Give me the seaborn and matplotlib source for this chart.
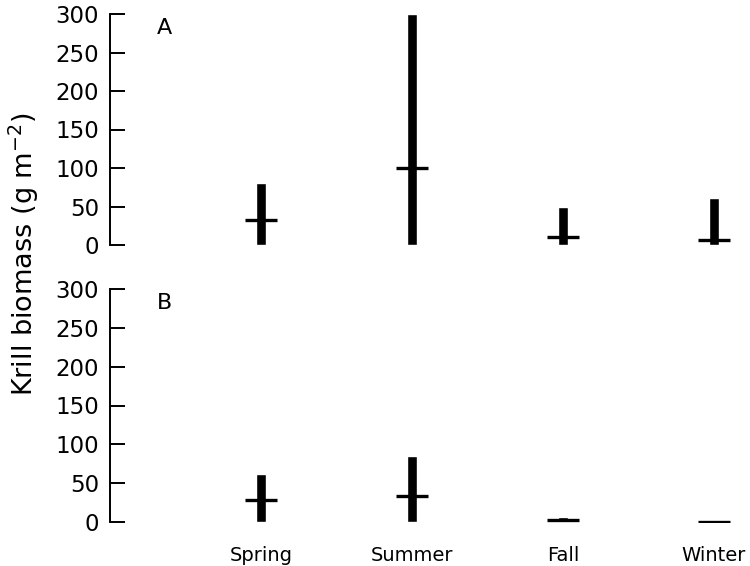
import matplotlib
matplotlib.use("Agg")
import matplotlib.pyplot as plt
import seaborn as sns
import pandas as pd

sns.set_theme(style="white")
plt.rcParams["font.family"] = ["DejaVu Sans"]
plt.rcParams["text.color"] = "black"
plt.rcParams["xtick.color"] = "black"
plt.rcParams["ytick.color"] = "black"

seasons = ["Spring", "Summer", "Fall", "Winter"]
# Panel A: range (0 to max) and median krill biomass
a_max = [80, 300, 49, 61]
a_median = [33, 100, 10, 6]
# Panel B
b_max = [62, 85, 7, 1]
b_median = [28, 34, 2, 0.5]

yticks = [0, 50, 100, 150, 200, 250, 300]

fig = plt.figure(figsize=(7.5, 5.66), dpi=100)
left = 110 / 750
width = 151 * 4.2 / 750
ax_a = fig.add_axes([left, 1 - 245 / 566, width, 231 / 566])
ax_b = fig.add_axes([left, 1 - 522 / 566, width, 233 / 566])

panels = [(ax_a, a_max, a_median, "A"), (ax_b, b_max, b_median, "B")]
for ax, vmax, vmed, tag in panels:
    df = pd.DataFrame({"season": seasons, "max": vmax, "median": vmed})
    sns.barplot(data=df, x="season", y="max", order=seasons, color="black",
                width=0.06, saturation=1, ax=ax)
    sns.scatterplot(data=df, x="season", y="median", marker="_", s=500,
                    color="black", linewidth=2.4, ax=ax, zorder=5)
    ax.set_xlim(-1, 3.2)
    ax.set_ylim(0, 300)
    ax.set_yticks(yticks)
    ax.set_yticklabels([str(t) for t in yticks], fontsize=16.5, color="black")
    ax.tick_params(axis="y", which="major", direction="in", length=11,
                   width=1.4, pad=8, left=True, right=False, colors="black")
    ax.tick_params(axis="x", length=0, labelsize=14, pad=17, colors="black")
    for s in ["top", "right", "bottom"]:
        ax.spines[s].set_visible(False)
    ax.spines["left"].set_color("black")
    ax.spines["left"].set_linewidth(1.4)
    ax.set_xlabel("")
    ax.set_ylabel("")
    ax.text(-0.64, 282, tag, fontsize=16, ha="center", va="center",
            color="black")

ax_a.set_xticklabels([])

fig.text(24 / 750, 1 - 254 / 566, "Krill biomass (g m$^{-2}$)", rotation=90,
         ha="center", va="center", fontsize=19.5, color="black")

fig.savefig("out.png", dpi=100)
